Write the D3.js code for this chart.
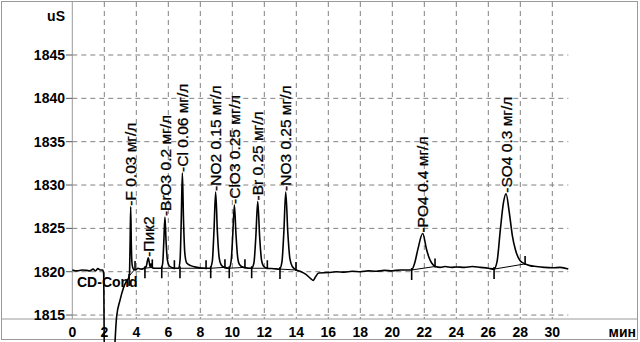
<!DOCTYPE html>
<html>
<head>
<meta charset="utf-8">
<script src="https://cdn.jsdelivr.net/npm/d3@7"></script>
<style>
  body { margin: 0; background: #fff; }
  svg { display: block; font-family: "Liberation Sans", Arial, sans-serif; }
</style>
</head>
<body>
<script>
// chromatogram trace (min, uS)
const traceTime = [0, 0.3, 0.6, 0.9, 1.1, 1.3, 1.45, 1.6, 1.75, 1.9, 1.96, 2.01, 2.6, 2.66, 2.77, 2.98, 3.19, 3.35, 3.5, 3.57, 3.61, 3.65, 3.69, 3.74, 3.82, 3.95, 4.1, 4.3, 4.5, 4.62, 4.7, 4.75, 4.8, 4.86, 4.93, 5.0, 5.1, 5.3, 5.55, 5.65, 5.72, 5.79, 5.86, 5.94, 6.05, 6.2, 6.4, 6.65, 6.74, 6.81, 6.88, 6.95, 7.03, 7.15, 7.4, 7.8, 8.3, 8.6, 8.75, 8.85, 8.96, 9.07, 9.18, 9.3, 9.5, 9.8, 9.93, 10.03, 10.13, 10.23, 10.34, 10.46, 10.7, 11.2, 11.35, 11.47, 11.59, 11.71, 11.83, 11.97, 12.2, 12.6, 12.95, 13.1, 13.22, 13.34, 13.47, 13.6, 13.75, 14.0, 14.3, 14.6, 14.9, 15.06, 15.2, 15.4, 16, 16.5, 17, 17.5, 18, 18.5, 19, 19.5, 20, 20.5, 21.2, 21.4, 21.6, 21.9, 22.15, 22.3, 22.46, 22.7, 23, 23.3, 23.7, 24, 24.5, 25, 25.5, 26, 26.35, 26.55, 26.75, 26.95, 27.11, 27.3, 27.5, 27.7, 27.98, 28.3, 28.6, 29, 29.5, 30, 30.5, 31];
const traceValue = [1820.2, 1820.1, 1820.2, 1820.15, 1820.1, 1820.3, 1820.1, 1820.35, 1820.2, 1820.2, 1819.8, 1809, 1809, 1811.5, 1814.8, 1816.7, 1818.1, 1818.8, 1819.2, 1819.6, 1823, 1827.5, 1823, 1820.8, 1820.3, 1820.2, 1820.4, 1820.3, 1820.4, 1820.6, 1821.3, 1821.6, 1821.2, 1820.6, 1820.9, 1820.5, 1820.4, 1820.4, 1820.4, 1821.0, 1823.5, 1826.3, 1823.5, 1821.4, 1820.7, 1820.5, 1820.4, 1820.4, 1821.5, 1826, 1831.4, 1826, 1822.2, 1821.0, 1820.7, 1820.5, 1820.4, 1820.4, 1821.2, 1824.5, 1829.2, 1824.5, 1821.6, 1820.8, 1820.5, 1820.4, 1821.3, 1824.3, 1827.7, 1824.3, 1821.6, 1820.8, 1820.5, 1820.4, 1821.0, 1824, 1828.1, 1824, 1821.3, 1820.6, 1820.4, 1820.35, 1820.3, 1821.1, 1824.5, 1829.2, 1824.5, 1821.5, 1820.6, 1820.2, 1820.0, 1819.7, 1819.2, 1819.0, 1819.4, 1819.85, 1819.9, 1820.0, 1819.95, 1820.05, 1820.0, 1820.1, 1820.05, 1820.15, 1820.1, 1820.2, 1820.2, 1821.0, 1822.6, 1824.4, 1822.5, 1821.6, 1821.0, 1820.6, 1820.5, 1820.6, 1820.5, 1820.55, 1820.5, 1820.6, 1820.5, 1820.4, 1820.3, 1821.2, 1824.8, 1828.0, 1829.0, 1827.0, 1824.2, 1822.5, 1821.3, 1820.9, 1820.7, 1820.6, 1820.5, 1820.45, 1820.5, 1820.3];

// peaks
const peakNames = ["F 0.03 мг/л", "Пик2", "BrO3 0.2 мг/л", "Cl 0.06 мг/л", "NO2 0.15 мг/л", "ClO3 0.25 мг/л", "Br 0.25 мг/л", "NO3 0.25 мг/л", "PO4 0.4 мг/л", "SO4 0.3 мг/л"];
const peakTime = [3.65, 4.75, 5.79, 6.88, 8.96, 10.13, 11.59, 13.34, 21.9, 27.11];
const peakValue = [1827.5, 1821.6, 1826.3, 1831.4, 1829.2, 1827.7, 1828.1, 1829.2, 1824.4, 1829.0];
const startTime = [3.55, 4.54, 5.59, 6.73, 8.65, 9.81, 11.21, 12.98, 21.21, 26.36];
const startValue = [1819.5, 1820.4, 1820.4, 1820.4, 1820.4, 1820.4, 1820.4, 1820.3, 1820.2, 1820.3];
const endTime = [3.92, 5.0, 6.38, 8.36, 9.54, 10.79, 12.19, 13.98, 22.67, 28.3];
const endValue = [1820.3, 1820.5, 1820.4, 1820.4, 1820.5, 1820.5, 1820.4, 1820.2, 1820.6, 1820.9];

const xTicks = d3.range(0, 31, 2);
const yTicks = [1815, 1820, 1825, 1830, 1835, 1840, 1845];

const W = 640, H = 342;
const svg = d3.select("body").append("svg").attr("width", W).attr("height", H);

const x = d3.scaleLinear().domain([0, 31]).range([72.3, 568.3]);
const y = d3.scaleLinear().domain([1815, 1845]).range([315.05, 55.0]);

const plotTop = 2, plotBottom = 319, plotRight = 637.5;

// grid
svg.append("g").selectAll("line").data(xTicks.filter(d => d > 0)).enter().append("line")
  .attr("x1", d => x(d)).attr("x2", d => x(d))
  .attr("y1", plotTop).attr("y2", plotBottom)
  .attr("stroke", "#808080").attr("stroke-dasharray", "5,4");
svg.append("g").selectAll("line").data(yTicks).enter().append("line")
  .attr("x1", x(0)).attr("x2", x(31))
  .attr("y1", d => y(d)).attr("y2", d => y(d))
  .attr("stroke", "#808080").attr("stroke-dasharray", "5,4");

// frame
svg.append("rect").attr("x", 1.5).attr("y", 1.5).attr("width", plotRight - 1.5).attr("height", 338)
  .attr("fill", "none").attr("stroke", "#9a9a9a");
svg.append("line").attr("x1", 72.3).attr("x2", 72.3).attr("y1", plotTop).attr("y2", plotBottom).attr("stroke", "#9a9a9a");
svg.append("line").attr("x1", 2).attr("x2", plotRight).attr("y1", plotBottom).attr("y2", plotBottom).attr("stroke", "#9a9a9a");

// y axis ticks + labels
const yg = svg.append("g");
yg.selectAll("line").data(yTicks).enter().append("line")
  .attr("x1", 66).attr("x2", 72.3).attr("y1", d => y(d)).attr("y2", d => y(d))
  .attr("stroke", "#555");
yg.selectAll("text").data(yTicks).enter().append("text")
  .attr("x", 65).attr("y", d => y(d)).attr("dy", "0.36em")
  .attr("text-anchor", "end").attr("font-size", 14).attr("font-weight", "bold")
  .text(d => d);
svg.append("text").attr("x", 65).attr("y", 21).attr("text-anchor", "end")
  .attr("font-size", 14).attr("font-weight", "bold").text("uS");

// x labels
svg.append("g").selectAll("text").data(xTicks).enter().append("text")
  .attr("x", d => x(d)).attr("y", 337).attr("text-anchor", "middle")
  .attr("font-size", 14).attr("font-weight", "bold").text(d => d);
svg.append("text").attr("x", 636).attr("y", 337).attr("text-anchor", "end")
  .attr("font-size", 14).attr("font-weight", "bold").text("мин");

// integration baselines
const idx = d3.range(peakTime.length);
svg.append("g").selectAll("line").data(idx).enter().append("line")
  .attr("x1", i => x(startTime[i])).attr("y1", i => y(startValue[i]))
  .attr("x2", i => x(endTime[i])).attr("y2", i => y(endValue[i]))
  .attr("stroke", "#000").attr("stroke-width", 1);

// trace
const line = d3.line().x(d => x(d[0])).y(d => y(d[1])).curve(d3.curveMonotoneX);
svg.append("path").datum(d3.zip(traceTime, traceValue))
  .attr("d", line).attr("fill", "none").attr("stroke", "#000").attr("stroke-width", 1.6);

// start / end markers
svg.append("g").selectAll("line").data(idx).enter().append("line")
  .attr("x1", i => x(startTime[i])).attr("x2", i => x(startTime[i]))
  .attr("y1", i => y(startValue[i]) - 2).attr("y2", i => y(startValue[i]) + 10)
  .attr("stroke", "#000").attr("stroke-width", 1.6);
svg.append("g").selectAll("line").data(idx).enter().append("line")
  .attr("x1", i => x(endTime[i])).attr("x2", i => x(endTime[i]))
  .attr("y1", i => y(endValue[i]) - 8).attr("y2", i => y(endValue[i]) + 1)
  .attr("stroke", "#000").attr("stroke-width", 1.6);

// peak labels
svg.append("g").selectAll("text").data(idx).enter().append("text")
  .attr("transform", i => "translate(" + x(peakTime[i]) + "," + (y(peakValue[i]) - 1) + ") rotate(-90)")
  .attr("dy", "0.36em").attr("font-size", 15.5)
  .attr("stroke", "#000").attr("stroke-width", 0.3)
  .text(i => "-" + peakNames[i]);

svg.append("text").attr("x", 77).attr("y", 287).attr("font-size", 14).attr("font-weight", "bold").text("CD-Cond");
</script>
</body>
</html>
